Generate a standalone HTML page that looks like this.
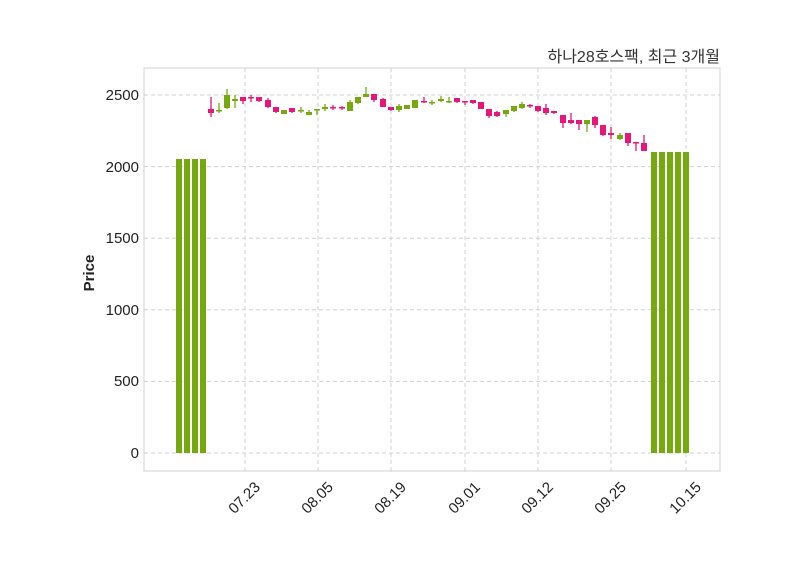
<!DOCTYPE html>
<html><head><meta charset="utf-8"><style>
body{margin:0;background:#fff}
svg{display:block;font-family:"Liberation Sans","Noto Sans CJK KR",sans-serif}
</style></head><body>
<svg id="s" width="800" height="575" xmlns="http://www.w3.org/2000/svg">
<rect x="144" y="68" width="576" height="403" fill="#fff" stroke="#e0e0e0" stroke-width="1.5"/>
<g stroke="#d0d0d0" stroke-dasharray="4,3" stroke-width="1">
<line x1="144" x2="720" y1="453" y2="453"/><line x1="144" x2="720" y1="381.4" y2="381.4"/>
<line x1="144" x2="720" y1="309.8" y2="309.8"/><line x1="144" x2="720" y1="238.2" y2="238.2"/>
<line x1="144" x2="720" y1="166.6" y2="166.6"/><line x1="144" x2="720" y1="95" y2="95"/>
<line x1="245" x2="245" y1="68" y2="471"/><line x1="318" x2="318" y1="68" y2="471"/>
<line x1="391" x2="391" y1="68" y2="471"/><line x1="465" x2="465" y1="68" y2="471"/>
<line x1="538" x2="538" y1="68" y2="471"/><line x1="611" x2="611" y1="68" y2="471"/>
<line x1="686" x2="686" y1="68" y2="471"/>
</g>
<g font-size="15" fill="#222" text-anchor="end">
<text x="139" y="458">0</text><text x="139" y="386">500</text><text x="139" y="315">1000</text>
<text x="139" y="243">1500</text><text x="139" y="172">2000</text><text x="139" y="100">2500</text>
</g>
<g font-size="15" fill="#222" text-anchor="end">
<text transform="translate(261,488) rotate(-45)">07.23</text>
<text transform="translate(334,488) rotate(-45)">08.05</text>
<text transform="translate(407,488) rotate(-45)">08.19</text>
<text transform="translate(481,488) rotate(-45)">09.01</text>
<text transform="translate(554,488) rotate(-45)">09.12</text>
<text transform="translate(627,488) rotate(-45)">09.25</text>
<text transform="translate(702,488) rotate(-45)">10.15</text>
</g>
<text transform="translate(94,273) rotate(-90)" font-size="15" font-weight="bold" fill="#222" text-anchor="middle">Price</text>
<text x="720" y="62" font-size="16" fill="#333" text-anchor="end">하나28호스팩, 최근 3개월</text>
<g id="c"></g>
</svg>
<script>
var G="#76a80f",R="#e8157a",out="";
[179,187,195,203].forEach(function(x){out+='<rect x="'+(x-3)+'" y="159" width="6" height="294" fill="'+G+'"/>';});
[654,662,670,678,686].forEach(function(x){out+='<rect x="'+(x-3)+'" y="152" width="6" height="301" fill="'+G+'"/>';});
var d=[
[211,R,109,113,97,117],[219,G,110,111,103,113],[227,G,95,108,89,109],[235,G,99,101,95,108],
[243,R,97,101,97,104],[251,R,97,98,95,102],[259,R,97,101,97,102],[268,R,100,107,98,108],
[276,R,107,112,107,113],[284,G,110,114,110,114],[292,R,108,112,108,113],[301,G,110,111,107,113],
[309,G,112,115,110,115],[317,G,109,110,109,115],[325,G,107,109,104,111],[333,R,107,108,105,110],
[342,R,107,108,106,110],[350,G,102,111,100,111],[358,G,97,103,97,104],[366,G,94,97,87,97],
[374,R,94,100,94,102],[383,R,99,107,98,107],[391,R,107,110,107,111],[399,G,106,110,104,112],
[407,G,105,109,105,109],[415,G,100,108,100,108],[424,R,101,102,97,103],[432,G,102,103,100,105],
[441,G,99,101,96,102],[449,G,101,102,97,103],[457,R,98,102,98,103],[465,R,101,102,101,105],
[473,R,100,103,100,104],[481,R,102,109,102,109],[489,R,109,116,109,118],[497,R,112,116,111,117],
[506,G,110,114,110,117],[514,G,106,111,106,112],[522,G,104,108,102,109],[530,R,105,106,104,108],
[538,R,106,111,106,112],[546,R,108,113,104,115],[554,R,111,113,111,114],[563,R,115,123,115,128],
[571,R,120,123,113,124],[579,R,120,124,120,130],[587,G,120,124,120,132],[595,R,117,125,116,128],
[603,R,125,135,125,136],[611,R,133,135,127,139],[620,G,135,139,133,140],[628,R,133,143,133,146],
[636,R,142,143,142,151],[644,R,143,151,135,151]];
d.forEach(function(c){
out+='<line x1="'+c[0]+'" x2="'+c[0]+'" y1="'+c[4]+'" y2="'+c[5]+'" stroke="'+c[1]+'" stroke-width="1.3"/>';
out+='<rect x="'+(c[0]-3)+'" y="'+c[2]+'" width="6" height="'+Math.max(1.5,c[3]-c[2])+'" fill="'+c[1]+'"/>';
});
document.getElementById("c").innerHTML=out;
</script>
</body></html>
